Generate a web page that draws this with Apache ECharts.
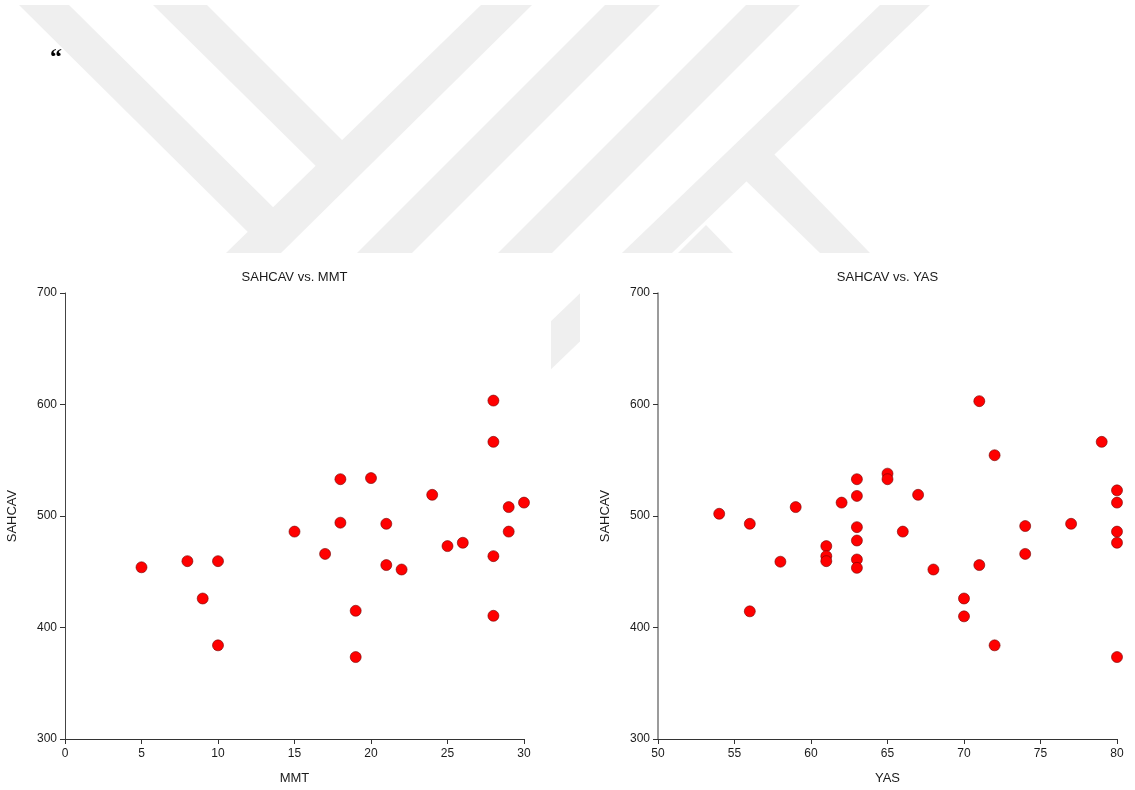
<!DOCTYPE html>
<html>
<head>
<meta charset="utf-8">
<script src="https://cdn.jsdelivr.net/npm/echarts@6/dist/echarts.min.js"></script>
<style>
  html, body { margin: 0; padding: 0; background: #ffffff; }
  #chart { width: 1135px; height: 790px; }
</style>
</head>
<body>
<div id="chart"></div>
<script>
// ---- data ----
const mmtValues = [5, 8, 9, 10, 10, 15, 17, 18, 18, 19, 19, 20, 21, 21, 22, 24, 25, 26, 28, 28, 28, 28, 29, 29, 30];
const sahcavByMmt = [454, 459.5, 426, 459.5, 384, 486, 466, 533, 494, 415, 373.5, 534, 493, 456, 452, 519, 473, 476, 603.5, 566.5, 464, 410.5, 508, 486, 512];

const yasValues = [54, 56, 56, 58, 59, 61, 61, 61, 62, 63, 63, 63, 63, 63, 63, 65, 65, 66, 67, 68, 70, 70, 71, 71, 72, 72, 74, 74, 77, 79, 80, 80, 80, 80, 80];
const sahcavByYas = [502, 493, 414.5, 459, 508, 473, 464, 459.5, 512, 533, 518, 490, 478, 461, 453.5, 538, 533, 486, 519, 452, 426, 410, 603, 456, 554.5, 384, 491, 466, 493, 566.5, 523, 512, 486, 476, 373.5];

const mmtTicks = { min: 0, max: 30, interval: 5 };
const yasTicks = { min: 50, max: 80, interval: 5 };
const sahcavTicks = { min: 300, max: 700, interval: 100 };

const titles = ['SAHCAV vs. MMT', 'SAHCAV vs. YAS'];
const xNames = ['MMT', 'YAS'];
const yName = 'SAHCAV';

// ---- chart ----
const FONT = '"Liberation Sans", Arial, sans-serif';
const WM = '#efefef';
const chart = echarts.init(document.getElementById('chart'), null, { renderer: 'canvas' });

function wm(points) {
  return { type: 'polygon', z: 0, silent: true, shape: { points: points }, style: { fill: WM } };
}
function white(x, y, w, h) {
  return { type: 'rect', z: 1, silent: true, shape: { x: x, y: y, width: w, height: h }, style: { fill: '#ffffff' } };
}

function xAxisCfg(idx, ticks, name) {
  return {
    type: 'value', gridIndex: idx, min: ticks.min, max: ticks.max, interval: ticks.interval,
    name: name, nameLocation: 'middle', nameGap: 33,
    nameTextStyle: { fontFamily: FONT, fontSize: 13, color: '#1a1a1a' },
    axisLine: { show: true, onZero: false, lineStyle: { color: '#333333', width: 1 } },
    axisTick: { show: true, inside: false, length: 5, lineStyle: { color: '#333333' } },
    axisLabel: { fontFamily: FONT, fontSize: 12, color: '#1a1a1a', margin: 9 },
    splitLine: { show: false }, z: 3
  };
}
function yAxisCfg(idx, ticks, color, width) {
  return {
    type: 'value', gridIndex: idx, min: ticks.min, max: ticks.max, interval: ticks.interval,
    name: yName, nameLocation: 'middle', nameGap: 46,
    nameTextStyle: { fontFamily: FONT, fontSize: 13, color: '#1a1a1a' },
    axisLine: { show: true, onZero: false, lineStyle: { color: color, width: width } },
    axisTick: { show: true, inside: false, length: 5, lineStyle: { color: '#333333' } },
    axisLabel: { fontFamily: FONT, fontSize: 12, color: '#1a1a1a', margin: 8 },
    splitLine: { show: false }, z: 3
  };
}

const pointStyle = { color: '#ff0000', borderColor: '#700000', borderWidth: 0.6, opacity: 1 };

const option = {
  backgroundColor: '#ffffff',
  animation: false,
  graphic: {
    elements: [
      // watermark (YÖK logo stripes)
      wm([[19, 5], [69, 5], [283, 217], [258, 242]]),
      wm([[153, 5], [207, 5], [351, 149], [325, 175]]),
      wm([[481, 5], [532, 5], [281, 253], [226, 253]]),
      wm([[605, 5], [660, 5], [412, 253], [357, 253]]),
      wm([[746, 5], [800, 5], [552, 253], [498, 253]]),
      wm([[880, 5], [930, 5], [519, 400], [469, 400]]),
      wm([[770, 150], [740, 175], [820, 253], [870, 253]]),
      wm([[706, 225], [733, 253], [678, 253]]),
      // chart image backgrounds covering the watermark
      white(0, 253, 1135, 34),
      white(0, 287, 551, 503),
      white(580, 287, 555, 503),
      // opening quote mark
      { type: 'text', z: 2, left: 50, top: 46, style: { text: '\u201C', font: 'bold 24px "Liberation Serif", "Times New Roman", serif', fill: '#000000' } }
    ]
  },
  title: [
    { text: titles[0], left: 294.5, top: 271, textAlign: 'center', padding: 0,
      textStyle: { fontFamily: FONT, fontSize: 13, fontWeight: 'normal', color: '#1a1a1a' } },
    { text: titles[1], left: 887.5, top: 271, textAlign: 'center', padding: 0,
      textStyle: { fontFamily: FONT, fontSize: 13, fontWeight: 'normal', color: '#1a1a1a' } }
  ],
  grid: [
    { left: 65, top: 293, width: 459, height: 446, containLabel: false },
    { left: 658, top: 293, width: 459, height: 446, containLabel: false }
  ],
  xAxis: [xAxisCfg(0, mmtTicks, xNames[0]), xAxisCfg(1, yasTicks, xNames[1])],
  yAxis: [yAxisCfg(0, sahcavTicks, '#444444', 1), yAxisCfg(1, sahcavTicks, '#7a7a7a', 1.5)],
  series: [
    {
      type: 'scatter', xAxisIndex: 0, yAxisIndex: 0, z: 4,
      symbol: 'circle', symbolSize: 11, itemStyle: pointStyle,
      data: mmtValues.map((x, i) => [x, sahcavByMmt[i]])
    },
    {
      type: 'scatter', xAxisIndex: 1, yAxisIndex: 1, z: 4,
      symbol: 'circle', symbolSize: 11, itemStyle: pointStyle,
      data: yasValues.map((x, i) => [x, sahcavByYas[i]])
    }
  ]
};
chart.setOption(option);
</script>
</body>
</html>
